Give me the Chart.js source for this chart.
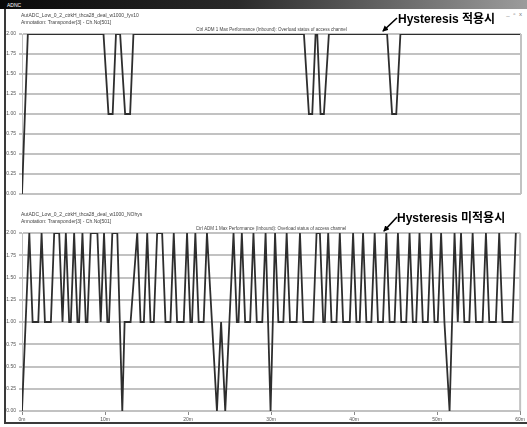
<!DOCTYPE html>
<html>
<head>
<meta charset="utf-8">
<script src="https://cdn.jsdelivr.net/npm/chart.js@4.4.1/dist/chart.umd.min.js"></script>
<style>
  body { margin: 0; width: 527px; height: 427px; position: relative; overflow: hidden; background: #fff; font-family: "Liberation Sans", Arial, sans-serif; }
  .abs { position: absolute; }
  #titlebar { left: 0; top: 0; width: 527px; height: 9px; background: linear-gradient(to right, #0a0a0a, #2a2a2a 45%, #9c9c9c); }
  #titlebar span { position: absolute; left: 7px; top: 2px; font-size: 5px; color: #fff; }
  #winbtn { right: 4px; top: 11px; font-size: 6px; color: #777; letter-spacing: 1px; }
  #frameL { left: 4px; top: 9px; width: 2px; height: 415px; background: #3a3a3a; }
  #frameB { left: 4px; top: 422px; width: 523px; height: 2px; background: #3a3a3a; }
  .note { font: bold 12px "Liberation Sans", "Noto Sans CJK KR", sans-serif; color: #000; line-height: 12px; white-space: nowrap; }
</style>
</head>
<body>
<div id="titlebar" class="abs"><span>ADNC</span></div>
<div id="winbtn" class="abs">_ ▫ x</div>
<div class="abs" style="left:0;top:0;width:527px;height:214px"><canvas id="c1" width="527" height="214"></canvas></div>
<div class="abs" style="left:0;top:210px;width:527px;height:217px"><canvas id="c2" width="527" height="217"></canvas></div>
<div id="frameL" class="abs"></div>
<div id="frameB" class="abs"></div>
<svg class="abs" style="left:0;top:0" width="527" height="427">
  <defs>
    <marker id="ah" markerWidth="6" markerHeight="6" refX="5" refY="3" orient="auto" markerUnits="userSpaceOnUse">
      <path d="M0,0 L6,3 L0,6 z" fill="#000"/>
    </marker>
  </defs>
  <line x1="397" y1="18" x2="383" y2="31" stroke="#000" stroke-width="1.6" marker-end="url(#ah)"/>
  <line x1="397" y1="217" x2="384" y2="231" stroke="#000" stroke-width="1.6" marker-end="url(#ah)"/>
</svg>
<div class="abs note" style="left:398px;top:13px">Hysteresis 적용시</div>
<div class="abs note" style="left:397px;top:212px">Hysteresis 미적용시</div>
<script>
// time in minutes, overload status
const topT = [0, 0.7, 9.8, 10.4, 10.9, 11.3, 11.8, 12.4, 13.0, 13.4, 33.9, 34.5, 34.9, 35.3, 35.5, 35.9, 36.3, 36.9, 43.9, 44.5, 45.0, 45.5, 60];
const topV = [0, 2, 2, 1, 1, 2, 2, 1, 1, 2, 2, 1, 1, 2, 2, 1, 1, 2, 2, 1, 1, 2, 2];

const bottomT = [
  0, 0.88, 1.28, 1.96, 2.36, 2.76, 3.48, 3.88, 4.48, 4.88,
  5.28, 5.68, 5.88, 6.28, 6.68, 6.88, 7.28, 7.68, 7.88, 8.28,
  9.08, 9.48, 9.88, 10.28, 10.48, 10.88, 11.48, 12.08, 12.36, 13.08,
  13.88, 14.28, 14.68, 15.08, 15.48, 15.88, 16.28, 16.88, 17.28, 17.88,
  18.28, 18.68, 19.48, 19.88, 20.28, 20.48, 20.88, 21.28, 21.88, 22.28,
  23.48, 23.98, 24.48, 25.48, 25.88, 26.08, 26.48, 26.88, 27.48, 27.88,
  28.28, 28.94, 29.34, 29.94, 30.48, 30.88, 31.48, 31.88, 32.28, 33.08,
  33.48, 33.88, 35.08, 35.48, 35.88, 36.28, 36.48, 36.88, 37.28, 37.88,
  38.28, 38.68, 39.48, 39.88, 40.28, 40.68, 41.08, 41.48, 42.08, 42.48,
  42.88, 43.48, 43.88, 44.28, 44.88, 45.28, 45.68, 46.28, 46.68, 47.08,
  47.48, 47.88, 48.28, 48.88, 49.28, 49.68, 50.08, 50.48, 50.88, 51.5,
  52.1, 52.49, 52.88, 53.28, 53.88, 54.28, 54.68, 55.48, 55.88, 56.28,
  57.08, 57.48, 57.88, 59.08, 59.48
];
const bottomV = [
  0, 2, 1, 1, 2, 1, 1, 2, 2, 1,
  2, 1, 1, 2, 1, 1, 2, 1, 1, 2,
  2, 1, 2, 1, 1, 2, 2, 0, 1, 1,
  2, 1, 1, 2, 1, 1, 2, 2, 1, 1,
  2, 1, 1, 2, 1, 1, 2, 1, 1, 2,
  0, 1, 0, 2, 1, 1, 2, 1, 1, 2,
  1, 1, 2, 0, 2, 1, 1, 2, 1, 1,
  2, 1, 1, 2, 2, 1, 1, 2, 1, 1,
  2, 1, 1, 2, 1, 1, 2, 1, 1, 2,
  1, 1, 2, 1, 1, 2, 1, 1, 2, 1,
  1, 2, 1, 1, 2, 1, 1, 2, 1, 0,
  2, 1, 2, 1, 1, 2, 1, 1, 2, 1,
  1, 2, 1, 1, 2
];

const xTicks = [0, 10, 20, 30, 40, 50, 60];
const chartTitle = "Ctrl ADM 1 Max Performance (Inbound): Overload status of access channel";
const topLines = ["AutADC_Low_0_2_ctrkH_thca28_deal_w1000_fyv10", "Annotation: Transponder[3] - Ch.No[501]"];
const bottomLines = ["AutADC_Low_0_2_ctrkH_thca28_deal_w1000_NOhys", "Annotation: Transponder[3] - Ch.No[501]"];

const gridGray = "#c2c2c2";
const tinyFont = { family: "Liberation Sans", size: 5 };

// header texts and right edge of the plot
const headerPlugin = {
  id: "header",
  afterDraw(chart, args, opts) {
    const ctx = chart.ctx;
    const area = chart.chartArea;
    ctx.save();
    ctx.strokeStyle = gridGray;
    ctx.lineWidth = 2;
    ctx.beginPath();
    ctx.moveTo(area.right, area.top);
    ctx.lineTo(area.right, area.bottom);
    ctx.stroke();
    ctx.fillStyle = "#444";
    ctx.font = "5px 'Liberation Sans'";
    ctx.textBaseline = "middle";
    ctx.textAlign = "left";
    ctx.fillText(opts.lines[0], 21, opts.y0);
    ctx.fillText(opts.lines[1], 21, opts.y0 + 7);
    ctx.font = "4.5px 'Liberation Sans'";
    ctx.textAlign = "center";
    ctx.fillText(chartTitle, (area.left + area.right) / 2, opts.y0 + 13.5);
    ctx.restore();
  }
};

const toPoints = (ts, vs) => ts.map((t, i) => ({ x: t, y: vs[i] }));

const makeChart = (id, ts, vs, lines, y0, padTop, padBottom, showX) => {
  const ctx = document.getElementById(id).getContext("2d");
  return new Chart(ctx, {
    type: "line",
    data: {
      datasets: [{
        data: toPoints(ts, vs),
        borderColor: "#2e2e2e",
        borderWidth: 1.8,
        pointRadius: 0,
        tension: 0,
        fill: false
      }]
    },
    options: {
      responsive: false,
      animation: false,
      layout: { padding: { top: padTop, right: 6, bottom: padBottom, left: 0 } },
      plugins: {
        legend: { display: false },
        tooltip: { enabled: false },
        header: { lines: lines, y0: y0 }
      },
      scales: {
        x: {
          type: "linear",
          min: 0,
          max: 60,
          display: showX,
          afterBuildTicks: (scale) => { scale.ticks = xTicks.map((v) => ({ value: v })); },
          afterFit: (scale) => { scale.height = 16; },
          border: { display: false },
          grid: { drawOnChartArea: false, tickLength: 4, tickColor: "#888", lineWidth: 1 },
          ticks: { font: tinyFont, color: "#555", padding: 2, maxRotation: 0, callback: (v) => v + "m" }
        },
        y: {
          min: 0,
          max: 2,
          afterFit: (scale) => { scale.width = 22; },
          border: { display: true, color: gridGray, width: 1 },
          grid: { color: gridGray, lineWidth: 2, tickLength: 3 },
          ticks: { stepSize: 0.25, font: tinyFont, color: "#555", padding: 3, callback: (v) => v.toFixed(2) }
        }
      }
    },
    plugins: [headerPlugin]
  });
};

makeChart("c1", topT, topV, topLines, 16, 34, 4, false);
makeChart("c2", bottomT, bottomV, bottomLines, 5, 23, 0, true);
</script>
</body>
</html>
